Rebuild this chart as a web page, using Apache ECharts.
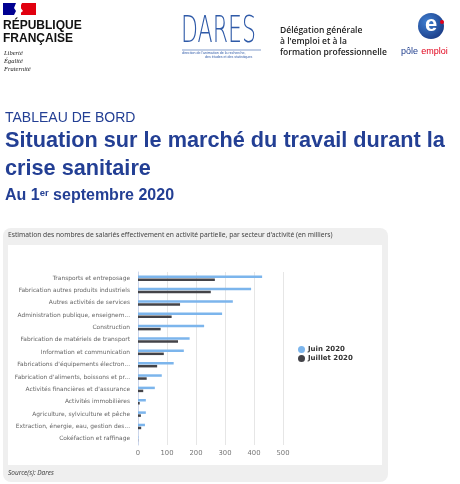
<!DOCTYPE html>
<html><head><meta charset="utf-8">
<script src="https://cdn.jsdelivr.net/npm/echarts@6/dist/echarts.min.js"></script>
<style>html,body{margin:0;padding:0;background:#fff}#c{width:460px;height:484px}</style>
</head><body><div id="c"></div>
<script>
const categories = [
  "Transports et entreposage",
  "Fabrication autres produits industriels",
  "Autres activités de services",
  "Administration publique, enseignement, santé humaine et action sociale",
  "Construction",
  "Fabrication de matériels de transport",
  "Information et communication",
  "Fabrications d'équipements électroniques, informatiques, machines",
  "Fabrication d'aliments, boissons et produits à base de tabac",
  "Activités financières et d'assurance",
  "Activités immobilières",
  "Agriculture, sylviculture et pêche",
  "Extraction, énergie, eau, gestion des déchets et dépollution",
  "Cokéfaction et raffinage"
];
const juin2020 =    [428, 390, 327, 290, 228, 178, 158, 123, 82, 58, 27, 27, 24, 1];
const juillet2020 = [265, 251, 145, 116, 78, 138, 89, 66, 30, 18, 6, 10, 11, 0.5];
const seriesNames = ["Juin 2020", "Juillet 2020"];
const xTicks = [0, 100, 200, 300, 400, 500];

const blue = "#233f94";
const chart = echarts.init(document.getElementById('c'), null, {renderer: 'canvas'});
const graphics = [
  // Marianne block
  {type:'rect', shape:{x:3,y:3,width:15,height:12}, style:{fill:'#000091'}},
  {type:'rect', shape:{x:21,y:3,width:15,height:12}, style:{fill:'#e1000f'}},
  {type:'polygon', shape:{points:[[16,3],[22,3],[20,7],[23,11],[18,15],[14,15],[16,11],[14,8]]}, style:{fill:'#fff'}},
  {type:'text', left:3, top:20, style:{text:'RÉPUBLIQUE', font:'bold 12px "Liberation Sans"', fill:'#111'}},
  {type:'text', left:3, top:33, style:{text:'FRANÇAISE', font:'bold 12px "Liberation Sans"', fill:'#111'}},
  {type:'text', left:4, top:50, style:{text:'Liberté', font:'italic 6.5px "Liberation Serif"', fill:'#222'}},
  {type:'text', left:4, top:58, style:{text:'Égalité', font:'italic 6.5px "Liberation Serif"', fill:'#222'}},
  {type:'text', left:4, top:66, style:{text:'Fraternité', font:'italic 6.5px "Liberation Serif"', fill:'#222'}},
  // DARES
  {type:'text', x:181, y:13, scaleX:0.58, style:{text:'DARES', font:'300 38px "DejaVu Sans"', fill:'#2f5aa8'}},
  {type:'line', shape:{x1:182,y1:50,x2:261,y2:50}, style:{stroke:'#2f5aa8', lineWidth:0.6}},
  {type:'text', left:182, top:51, style:{text:"direction de l'animation de la recherche,", font:'3.6px "Liberation Sans"', fill:'#2f5aa8'}},
  {type:'text', left:205, top:55, style:{text:'des études et des statistiques', font:'3.6px "Liberation Sans"', fill:'#2f5aa8'}},
  // DGEFP
  {type:'text', left:280, top:26, style:{text:'Délégation générale', font:'600 8.5px "Open Sans"', fill:'#222'}},
  {type:'text', left:280, top:37, style:{text:"à l'emploi et à la", font:'600 8.5px "Open Sans"', fill:'#222'}},
  {type:'text', left:280, top:48, style:{text:'formation professionnelle', font:'600 8.5px "Open Sans"', fill:'#222'}},
  // Pole emploi
  {type:'circle', shape:{cx:431,cy:26,r:13}, style:{fill:new echarts.graphic.RadialGradient(0.35,0.35,0.8,[{offset:0,color:'#3f7fd0'},{offset:1,color:'#17357f'}])}},
  {type:'text', x:431, y:25, style:{text:'e', font:'bold 22px "Liberation Sans"', fill:'#fff', align:'center', verticalAlign:'middle'}},
  {type:'circle', shape:{cx:442,cy:22,r:2}, style:{fill:'#e2001a'}},
  {type:'text', left:401, top:46, style:{rich:{a:{font:'9px "Liberation Sans"', fill:'#1f3e8d'}, b:{font:'9px "Liberation Sans"', fill:'#e2001a'}}, text:'{a|pôle} {b|emploi}'}},
  // Titles
  {type:'text', left:5, top:111, style:{text:'TABLEAU DE BORD', font:'14px "Liberation Sans"', fill:blue}},
  {type:'text', left:5, top:130, style:{text:'Situation sur le marché du travail durant la', font:'bold 21.7px "Liberation Sans"', fill:blue}},
  {type:'text', left:5, top:158, style:{text:'crise sanitaire', font:'bold 21.7px "Liberation Sans"', fill:blue}},
  {type:'text', left:5, top:188, style:{rich:{n:{font:'bold 16px "Liberation Sans"', fill:blue}, s:{font:'bold 9.5px "Liberation Sans"', fill:blue, verticalAlign:'top', padding:[0,0,6,0]}}, text:'{n|Au 1}{s|er}{n| septembre 2020}'}},
  // Chart box
  {type:'rect', z:-10, shape:{x:3,y:228,width:385,height:254,r:8}, style:{fill:'#efefef'}},
  {type:'rect', z:-9, shape:{x:8,y:245,width:374,height:220}, style:{fill:'#ffffff'}},
  {type:'text', left:8, top:232, style:{text:"Estimation des nombres de salariés effectivement en activité partielle, par secteur d'activité (en milliers)", font:'6.7px "Noto Sans"', fill:'#444'}},
  {type:'text', left:8, top:470, style:{text:'Source(s): Dares', font:'italic 6.5px "Noto Sans"', fill:'#444'}}
];

chart.setOption({
  animation:false,
  backgroundColor:'#fff',
  graphic: graphics,
  legend:{
    orient:'vertical', left:293, top:341, itemGap:2,
    icon:'circle', itemWidth:7, itemHeight:7,
    textStyle:{fontSize:7, fontWeight:'bold', color:'#333', fontFamily:'"DejaVu Sans"', padding:[0,0,0,-2]},
    data: seriesNames
  },
  grid:{left:138, width:145, top:272, height:173, containLabel:false},
  xAxis:{
    type:'value', min:xTicks[0], max:xTicks[xTicks.length-1], interval:100,
    axisLine:{show:false}, axisTick:{show:false},
    splitLine:{lineStyle:{color:'#e6e6e6', width:1}},
    axisLabel:{fontSize:6.8, color:'#777', margin:5, fontFamily:'"DejaVu Sans"'}
  },
  yAxis:{
    type:'category', inverse:true, data:categories,
    axisLine:{lineStyle:{color:'#ccd6eb'}},
    axisTick:{length:3, lineStyle:{color:'#ccd6eb'}},
    axisLabel:{fontSize:5.9, color:'#666', margin:8, fontFamily:'"DejaVu Sans"', width:117, overflow:'truncate', ellipsis:'...'}
  },
  series:[
    {name:seriesNames[0], type:'bar', data:juin2020, barWidth:2.5, barGap:'20%', itemStyle:{color:'#7cb5ec'}},
    {name:seriesNames[1], type:'bar', data:juillet2020, barWidth:2.5, itemStyle:{color:'#434348'}}
  ]
});
</script></body></html>
